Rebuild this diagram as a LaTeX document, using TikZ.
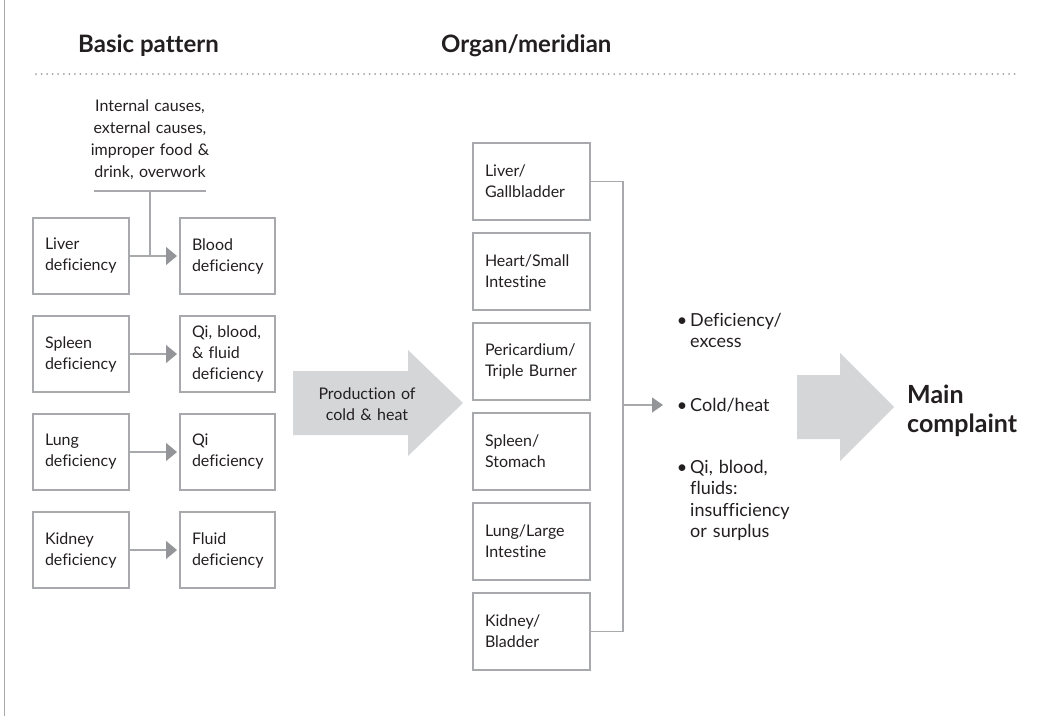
\documentclass[tikz,border=0pt]{standalone}
\usepackage{fontspec}
\setmainfont{Lato}[Ligatures=NoCommon]
\usetikzlibrary{arrows.meta}
\definecolor{txt}{HTML}{231F20}
\definecolor{boxline}{HTML}{A7A9AC}
\definecolor{tipc}{HTML}{939598}
\definecolor{bigfill}{HTML}{D5D6D8}
\definecolor{dotc}{HTML}{A0A0A0}
\hyphenpenalty=10000
\exhyphenpenalty=10000
\begin{document}
\begin{tikzpicture}[x=1pt,y=-1pt,
  font=\fontsize{16}{21}\selectfont, text=txt,
  boxstyle/.style={draw=boxline, line width=1.3pt, anchor=north west, inner xsep=12pt,
    inner ysep=0pt, outer sep=0pt, align=left, minimum height=76pt},
  leftbox/.style={boxstyle, minimum width=96pt, text width=72pt},
  rightbox/.style={boxstyle, minimum width=95pt, text width=71pt},
  midbox/.style={boxstyle, minimum width=117pt, text width=93pt, minimum height=77pt},
  conn/.style={draw=boxline, line width=1.3pt},
  arr/.style={conn, -{Triangle[width=18pt,length=11pt,color=tipc,fill=tipc]}, shorten >=3pt},
  arrb/.style={conn, -{Triangle[width=15pt,length=11pt,color=tipc,fill=tipc]}},
  header/.style={anchor=base west, inner sep=0pt, font=\fontsize{24}{29}\selectfont\bfseries},
  bullettext/.style={anchor=base west, inner sep=0pt, text width=150pt, align=left,
    font=\fontsize{18}{21.5}\selectfont},
]
\useasboundingbox (0,0) rectangle (1057,716);

% frame edge and header rule
\draw[conn] (4.5,0) -- (4.5,716);
\draw[dotc, line width=2pt, line cap=round, dash pattern=on 0pt off 5.56pt] (36,74) -- (1015,74);

% headers
\node[header] (h1) at (78,52) {Basic pattern};
\node[header] (h2) at (441,52) {Organ/meridian};

% causes
\node[anchor=base, inner sep=0pt, text width=150pt, align=center,
      font=\fontsize{16}{22}\selectfont] (causes) at (150,111)
  {Internal causes,\\external causes,\\improper food \&\\drink, overwork};

% left column
\node[leftbox] (lb1) at (33,218) {Liver\\deficiency};
\node[leftbox] (lb2) at (33,316) {Spleen\\deficiency};
\node[leftbox] (lb3) at (33,414) {Lung\\deficiency};
\node[leftbox] (lb4) at (33,512) {Kidney\\deficiency};

\node[rightbox] (rb1) at (180,218) {Blood\\deficiency};
\node[rightbox] (rb2) at (180,316) {Qi, blood,\\\& fluid\\deficiency};
\node[rightbox] (rb3) at (180,414) {Qi\\deficiency};
\node[rightbox] (rb4) at (180,512) {Fluid\\deficiency};

\coordinate (barL) at (94,191);
\coordinate (barR) at (206,191);
\coordinate (barM) at (150,191);
\draw[conn] (barL) -- (barR);
\draw[conn] (barM) -- (barM |- lb1.east);

\foreach \i in {1,...,4} \draw[arr] (lb\i.east) -- (rb\i.west);

% big arrow 1
\fill[bigfill] (293,371) -- (408,371) -- (408,350) -- (463,403) -- (408,456) -- (408,435) -- (293,435) -- cycle;
\node[anchor=base, inner sep=0pt, text width=120pt, align=center] (prod) at (367,399) {Production of\\cold \& heat};

% middle column
\node[midbox] (m1) at (473,143) {Liver/\\Gallbladder};
\node[midbox] (m2) at (473,233) {Heart/Small\\Intestine};
\node[midbox] (m3) at (473,323) {Pericardium/\\Triple Burner};
\node[midbox] (m4) at (473,413) {Spleen/\\Stomach};
\node[midbox] (m5) at (473,503) {Lung/Large\\Intestine};
\node[midbox] (m6) at (473,593) {Kidney/\\Bladder};

\coordinate (bx) at (623,0);
\coordinate (tipA) at (663,405);
\draw[conn] (m1.east) -- (m1.east -| bx) -- (m6.east -| bx) -- (m6.east);
\draw[arrb] (bx |- tipA) -- (tipA);

% bullets
\node[bullettext] (b1) at (690,326) {\llap{\textbullet\hspace{3pt}}Deficiency/\\excess};
\node[bullettext] (b2) at (690,411) {\llap{\textbullet\hspace{3pt}}Cold/heat};
\node[bullettext] (b3) at (690,473) {\llap{\textbullet\hspace{3pt}}Qi, blood,\\fluids:\\insufficiency\\or surplus};

% big arrow 2
\fill[bigfill] (797,375) -- (840,375) -- (840,353) -- (894,407) -- (840,461) -- (840,439) -- (797,439) -- cycle;
\node[anchor=base west, inner sep=0pt, text width=140pt, align=left, font=\fontsize{25}{29}\selectfont\bfseries]
  (main) at (907,403) {Main\\complaint};
\end{tikzpicture}
\end{document}
